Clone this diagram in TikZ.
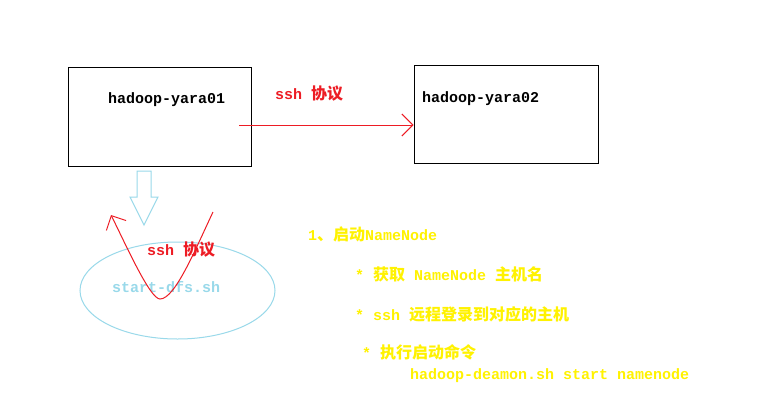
\documentclass[tikz,border=0pt]{standalone}
\usepackage{fontspec}
\setmonofont{Liberation Mono}
\newfontfamily\cjk{Noto Sans CJK SC}
\usetikzlibrary{arrows.meta,shapes.geometric}
\definecolor{paintred}{HTML}{ED1C24}
\definecolor{paintyellow}{HTML}{FFF200}
\definecolor{paintblue}{HTML}{99D9EA}
\newcommand{\zh}[1]{{\cjk\fontsize{16}{18}\selectfont #1}}
\tikzset{host/.style={draw=black,line width=1pt,minimum width=183pt,minimum height=99pt,inner sep=0pt},
 txt/.style={anchor=base west,inner sep=0pt,font=\ttfamily\bfseries\fontsize{15}{18}\selectfont},
 note/.style={txt,text=paintyellow},
 redarr/.style={draw=paintred,line width=1pt,-{Straight Barb[length=11pt,width=22pt]}}}

\begin{document}
\begin{tikzpicture}[x=1pt,y=-1pt]
\useasboundingbox[fill=white] (0,0) rectangle (768,405);
\node[host] (yara01) at (159.5,116.5) {};
\node[host,minimum width=184pt,minimum height=98pt] (yara02) at (506,114) {};
\node[txt] (name01) at (108,103) {hadoop-yara01};
\node[txt] (name02) at (422,102) {hadoop-yara02};
\node[txt,text=paintred] (proto) at (275,99) {ssh \zh{协议}};

\coordinate (out01) at (239,125);
\draw[redarr] (out01) -- (out01 -| yara02.west);

\draw[draw=paintblue,line width=1pt] (137,171) -- (151,171) -- (151,197) -- (158,197) -- (144,225)
 -- (130,197) -- (137,197) -- cycle;

\node[ellipse,draw=paintblue,line width=1pt,minimum width=195pt,minimum height=97pt] (dfs) at (177.5,290.5) {};
\node[txt,text=paintblue] (script) at (112,292) {start-dfs.sh};
\draw[redarr] (213,212) .. controls (195,250) and (175,299) .. (160,299)
 .. controls (150,299) and (126,245) .. (111,215);
\node[txt,text=paintred] (proto2) at (147,255) {ssh \zh{协议}};

\node[note] (step) at (308,240) {1\zh{、启动}NameNode};
\node[note] (getname) at (355,280) {* \zh{获取} NameNode \zh{主机名}};
\node[note] (login) at (355,320) {* ssh \zh{远程登录到对应的主机}};
\node[note] (exec) at (362,358) {* \zh{执行启动命令}};
\node[note] (cmd) at (410,379) {hadoop-deamon.sh start namenode};
\end{tikzpicture}
\end{document}
